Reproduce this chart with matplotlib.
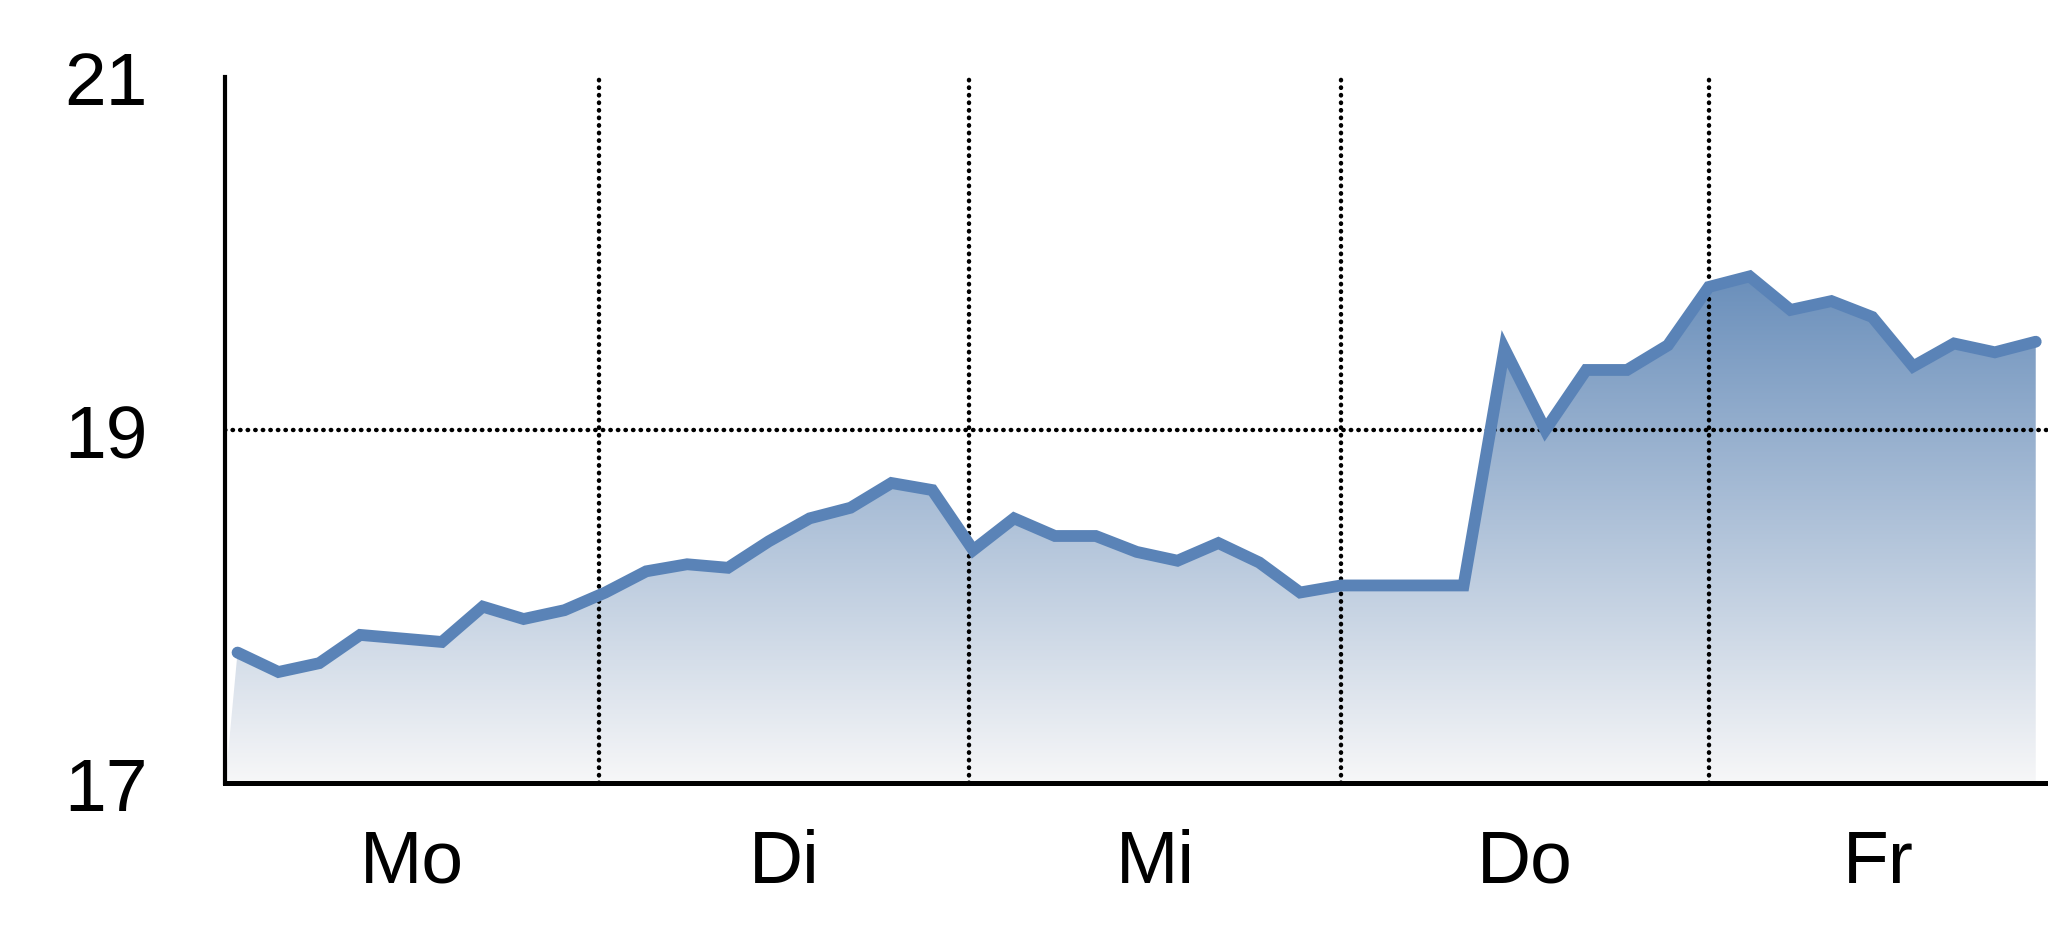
import matplotlib
matplotlib.use("Agg")
import matplotlib.pyplot as plt
import numpy as np
from matplotlib.colors import LinearSegmentedColormap

# values, one every few hours, Mo..Fr
values = [17.74, 17.63, 17.68, 17.84, 17.82, 17.80, 18.00, 17.93, 17.98, 18.08,
          18.20, 18.24, 18.22, 18.37, 18.50, 18.56, 18.70, 18.66, 18.32, 18.50,
          18.40, 18.40, 18.31, 18.26, 18.36, 18.25, 18.08, 18.12, 18.12, 18.12,
          18.12, 19.46, 19.00, 19.34, 19.34, 19.48, 19.81, 19.87, 19.68, 19.73,
          19.64, 19.36, 19.49, 19.44, 19.50]
days = ["Mo", "Di", "Mi", "Do", "Fr"]
day_edges = [-0.3, 8.85, 17.9, 27.0, 36.0, 44.3]
y_ticks = [17, 19, 21]

plt.rcParams['font.family'] = ['Liberation Sans', 'DejaVu Sans']

x = np.arange(len(values))
y = np.array(values)

fig = plt.figure(figsize=(20.48, 9.37), dpi=100)
ax = fig.add_axes([0.110, 0.163, 0.890, 0.754])
ax.set_xlim(day_edges[0], day_edges[-1])
ax.set_ylim(17, 21)

# gradient fill under the line
cmap = LinearSegmentedColormap.from_list("fade", ["#f7f7f8", "#6a8fbb"])
grad = np.linspace(0, 1, 256).reshape(-1, 1)
img = ax.imshow(grad, cmap=cmap, aspect="auto", origin="lower",
                extent=[x[0] - 0.3, x[-1], 17, y.max()], zorder=1)
px = np.concatenate([[x[0] - 0.3], x, [x[-1]]])
py = np.concatenate([[17], y, [17]])
poly = ax.fill(px, py, facecolor="none", edgecolor="none")[0]
img.set_clip_path(poly)

ax.plot(x, y, color="#5a83b7", lw=8.5, solid_joinstyle="miter", solid_capstyle="round", zorder=3)

# dotted grid
dot = dict(color="black", lw=3.2, linestyle=(0, (0.1, 1.6)), dash_capstyle="round", zorder=2)
for e in day_edges[1:-1]:
    ax.plot([e, e], [17, 21], **dot)
ax.plot([day_edges[0], day_edges[-1]], [19, 19], **dot)

for s in ["top", "right"]:
    ax.spines[s].set_visible(False)
ax.spines["left"].set_linewidth(3.0)
ax.spines["bottom"].set_linewidth(3.6)

mids = [(day_edges[i] + day_edges[i + 1]) / 2 for i in range(len(days))]
ax.set_xticks(mids)
ax.set_xticklabels(days, fontsize=54)
ax.set_yticks(y_ticks)
ax.set_yticklabels([str(t) for t in y_ticks], fontsize=54)
ax.tick_params(axis="x", length=0, pad=32)
ax.tick_params(axis="y", length=0, pad=56)

fig.savefig("out.png", dpi=100)
